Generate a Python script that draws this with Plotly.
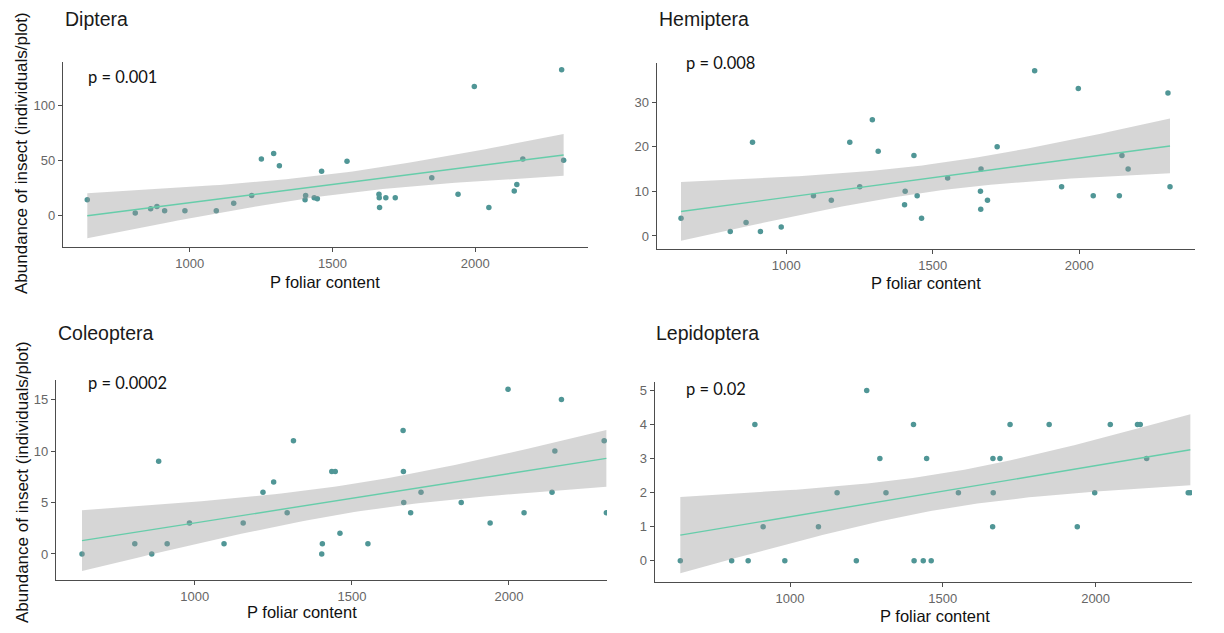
import numpy as np
import plotly.graph_objects as go

# ---------------- data ----------------
p_foliar = [641, 809, 863, 885, 912, 983, 1093, 1154, 1217, 1251, 1294, 1314,
            1404, 1406, 1436, 1447, 1462, 1551, 1663, 1664, 1665, 1687, 1720,
            1848, 1940, 1997, 2048, 2137, 2146, 2167, 2303, 2310]

diptera = [14, 2, 6, 8, 4, 4, 4, 11, 18, 51, 56, 45, 14, 18, 16, 15, 40, 49,
           19, 16, 7, 16, 16, 34, 19, 117, 7, 22, 28, 51, 132, 50]
hemiptera = [4, 1, 3, 21, 1, 2, 9, 8, 21, 11, 26, 19, 7, 10, 18, 9, 4, 13,
             10, 6, 15, 8, 20, 37, 11, 33, 9, 9, 18, 15, 32, 11]
coleoptera = [0, 1, 0, 9, 1, 3, 1, 3, 6, 7, 4, 11, 0, 1, 8, 8, 2, 1,
              12, 8, 5, 4, 6, 5, 3, 16, 4, 6, 10, 15, 11, 4]
lepidoptera = [0, 0, 0, 4, 1, 0, 1, 2, 0, 5, 3, 2, 4, 0, 0, 3, 0, 2,
               1, 3, 2, 3, 4, 4, 1, 2, 4, 4, 4, 3, 2, 2]

panel_titles = ["Diptera", "Hemiptera", "Coleoptera", "Lepidoptera"]
p_labels = ["p = 0.001", "p = 0.008", "p = 0.0002", "p = 0.02"]
x_ticks = [1000, 1500, 2000]
y_ticks = [[0, 50, 100], [0, 10, 20, 30], [0, 5, 10, 15], [0, 1, 2, 3, 4, 5]]
x_title = "P foliar content"
y_title = "Abundance of insect (individuals/plot)"

# ---------------- layout geometry (pixels, page coordinates) ----------------
W, H = 1224, 633
OFF = 8  # default page body margin of the html page
boxes = [(63, 587.5, 61.7, 247), (656.7, 1194.5, 62.7, 249.3),
         (56, 607, 380, 580), (654.7, 1192, 381.7, 581.8)]
x_ranges = [[555.9, 2393.6], [558, 2393.6], [558.2, 2312], [557.2, 2315.4]]
y_ranges = [[-28.8, 139.4], [-2.98, 38.8], [-2.53, 16.9], [-0.62, 5.26]]
title_pos = [(63, 19.5), (656.7, 19.5), (56, 333), (654, 333)]
p_pos = [(86, 76.7), (684.3, 63.3), (86, 382.7), (684, 389.3)]
xt_pos = [(325, 281.7), (925.6, 283), (302, 612), (935, 616)]
yt_pos = [(22, 153), (22, 482)]


def fx(px):
    return (px - OFF) / W


def fy(py):
    return 1 - (py - OFF) / H


POINT_COL = "#509696"
LINE_COL = "#66CDAA"
RIBBON_COL = "rgba(153,153,153,0.4)"
AXIS_COL = "#4d4d4d"
TICK_TXT = "#666666"

T975 = 2.0423  # Student t quantile, df = 30


def lm_band(x, y, n=80):
    x = np.asarray(x, float)
    y = np.asarray(y, float)
    b1, b0 = np.polyfit(x, y, 1)
    resid = y - (b0 + b1 * x)
    s = np.sqrt(np.sum(resid ** 2) / (len(x) - 2))
    xg = np.linspace(x.min(), x.max(), n)
    sxx = np.sum((x - x.mean()) ** 2)
    se = s * np.sqrt(1 / len(x) + (xg - x.mean()) ** 2 / sxx)
    fit = b0 + b1 * xg
    return xg, fit, fit - T975 * se, fit + T975 * se


fig = go.Figure()
series = [diptera, hemiptera, coleoptera, lepidoptera]
annotations = []
layout = {}

for i, yv in enumerate(series):
    k = "" if i == 0 else str(i + 1)
    xa, ya = "x" + k, "y" + k
    # points first (ribbon drawn over them as in ggplot)
    fig.add_trace(go.Scatter(x=p_foliar, y=yv, mode="markers", xaxis=xa, yaxis=ya,
                             marker=dict(color=POINT_COL, size=5.5, line=dict(width=0)),
                             hoverinfo="skip"))
    xg, fit, lo, hi = lm_band(p_foliar, yv)
    fig.add_trace(go.Scatter(x=np.concatenate([xg, xg[::-1]]),
                             y=np.concatenate([hi, lo[::-1]]),
                             fill="toself", fillcolor=RIBBON_COL, mode="lines",
                             line=dict(width=0), xaxis=xa, yaxis=ya, hoverinfo="skip"))
    fig.add_trace(go.Scatter(x=xg, y=fit, mode="lines", xaxis=xa, yaxis=ya,
                             line=dict(color=LINE_COL, width=1.4), hoverinfo="skip"))

    l, r, t, b = boxes[i]
    common = dict(showgrid=False, zeroline=False, showline=True, linecolor=AXIS_COL,
                  linewidth=1.2, ticks="outside", ticklen=4, tickwidth=1,
                  tickcolor=AXIS_COL, mirror=False,
                  tickfont=dict(family="Liberation Sans, Arial", size=13, color=TICK_TXT))
    layout["xaxis" + k] = dict(common, domain=[fx(l), fx(r)], range=x_ranges[i],
                               tickvals=x_ticks, anchor=ya)
    layout["yaxis" + k] = dict(common, domain=[fy(b), fy(t)], range=y_ranges[i],
                               tickvals=y_ticks[i], anchor=xa)

    tx, ty = title_pos[i]
    annotations.append(dict(text=panel_titles[i], x=fx(tx), y=fy(ty), xref="paper",
                            yref="paper", xanchor="left", yanchor="middle", showarrow=False,
                            font=dict(family="Liberation Sans, Arial", size=19.5, color="#1a1a1a")))
    px_, py_ = p_pos[i]
    annotations.append(dict(text=p_labels[i], x=fx(px_), y=fy(py_), xref="paper",
                            yref="paper", xanchor="left", yanchor="middle", showarrow=False,
                            font=dict(family="Lato", size=16.5, color="#111111")))
    xx, xy = xt_pos[i]
    annotations.append(dict(text=x_title, x=fx(xx), y=fy(xy), xref="paper",
                            yref="paper", xanchor="center", yanchor="middle", showarrow=False,
                            font=dict(family="Liberation Sans, Arial", size=16.5, color="#111111")))

for (yx, yy) in yt_pos:
    annotations.append(dict(text=y_title, x=fx(yx), y=fy(yy), xref="paper", yref="paper",
                            xanchor="center", yanchor="middle", textangle=-90, showarrow=False,
                            font=dict(family="Liberation Sans, Arial", size=17, color="#111111")))

fig.update_layout(width=W, height=H, margin=dict(l=0, r=0, t=0, b=0),
                  paper_bgcolor="white", plot_bgcolor="white", showlegend=False,
                  annotations=annotations, **layout)

fig.write_html("out.html")
